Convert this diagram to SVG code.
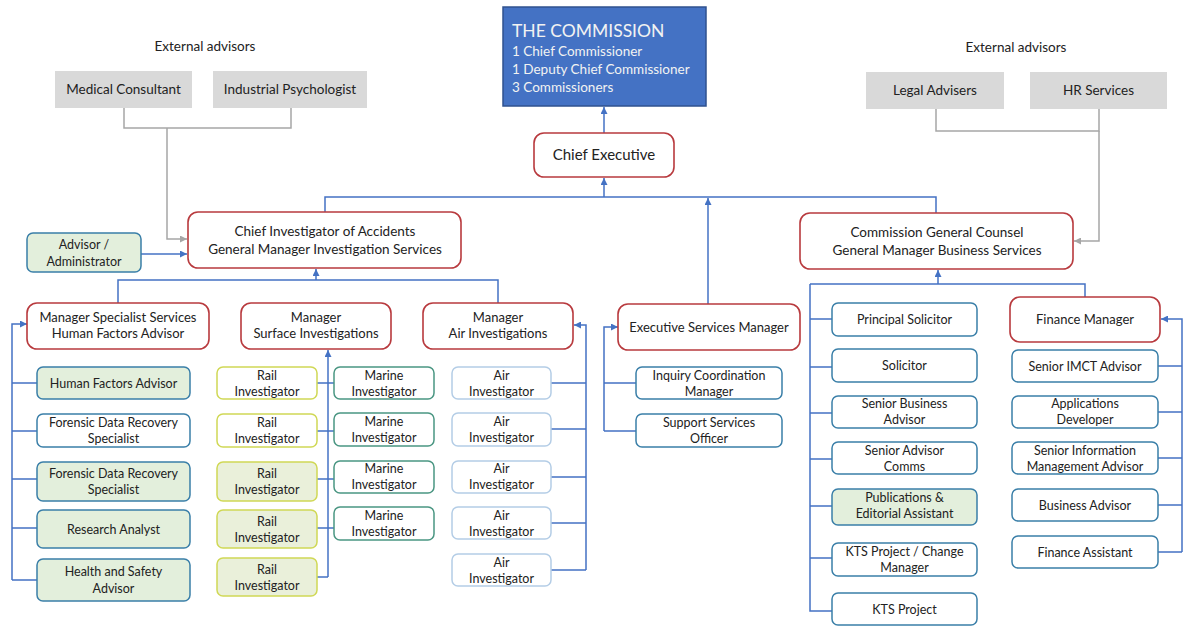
<svg xmlns="http://www.w3.org/2000/svg" width="1185" height="626" viewBox="0 0 1185 626">
  <style>
    text { font-family: Lato, "Open Sans", sans-serif; fill: #222; text-anchor: middle; }
    .s { font-size: 12.5px; }
    .m { font-size: 13px; }
    .l { font-size: 13.5px; }
    .lead { fill: #fff; stroke: #b83a3e; stroke-width: 1.6; }
    .kid { fill: #fff; stroke: #3a7fa8; stroke-width: 1.5; }
    .kidg { fill: #e3efdc; stroke: #3a7fa8; stroke-width: 1.5; }
    .rail { fill: #fff; stroke: #d0d855; stroke-width: 1.5; }
    .railg { fill: #eaf0da; stroke: #d0d855; stroke-width: 1.5; }
    .marine { fill: #fff; stroke: #4a9682; stroke-width: 1.5; }
    .air { fill: #fff; stroke: #b4cde6; stroke-width: 1.5; }
    .ext { fill: #d9d9d9; }
    .ln { fill: none; stroke: #4472c4; stroke-width: 1.5; }
    .gl { fill: none; stroke: #a6a6a6; stroke-width: 1.5; }
    .cw { fill: #f2f2f2; text-anchor: start; }
  </style>
  <defs>
    <marker id="ab" viewBox="0 0 10 10" refX="10" refY="5" markerWidth="7" markerHeight="7" markerUnits="userSpaceOnUse" orient="auto">
      <path d="M0 0 L10 5 L0 10 z" fill="#4472c4"/>
    </marker>
    <marker id="ag" viewBox="0 0 10 10" refX="10" refY="5" markerWidth="7" markerHeight="7" markerUnits="userSpaceOnUse" orient="auto">
      <path d="M0 0 L10 5 L0 10 z" fill="#a6a6a6"/>
    </marker>
  </defs>

  <rect width="1185" height="626" fill="#fff"/>

  <!-- connectors -->
  <g id="connectors">
    <!-- external advisors -->
    <path class="gl" d="M124 108 V128 H291 V108"/>
    <path class="gl" d="M167 128 V239 H187" marker-end="url(#ag)"/>
    <path class="gl" d="M936 109 V131 H1099 V109"/>
    <path class="gl" d="M1099 131 V241 H1074" marker-end="url(#ag)"/>
    <!-- top level -->
    <path class="ln" d="M604 133 V107" marker-end="url(#ab)"/>
    <path class="ln" d="M604 197 V178" marker-end="url(#ab)"/>
    <path class="ln" d="M325 212 V197 H936 V213"/>
    <path class="ln" d="M708 304 V198" marker-end="url(#ab)"/>
    <path class="ln" d="M141 254 H187" marker-end="url(#ab)"/>
    <!-- investigation services -->
    <path class="ln" d="M118 303 V280 H498 V303"/>
    <path class="ln" d="M316 280 V269" marker-end="url(#ab)"/>
    <path class="ln" d="M12 580 V324 H27" marker-end="url(#ab)"/>
    <path class="ln" d="M12 383 H37 M12 431 H37 M12 479 H37 M12 528 H37 M12 580 H37"/>
    <path class="ln" d="M328 577 V350" marker-end="url(#ab)"/>
    <path class="ln" d="M317 383 H334 M317 431 H334 M317 479 H334 M317 528 H334 M317 577 H328"/>
    <path class="ln" d="M586 570 V325 H574" marker-end="url(#ab)"/>
    <path class="ln" d="M551 383 H586 M551 429 H586 M551 477 H586 M551 523 H586 M551 570 H586"/>
    <!-- executive services -->
    <path class="ln" d="M604 431 V327 H618" marker-end="url(#ab)"/>
    <path class="ln" d="M604 383 H636 M604 431 H636"/>
    <!-- business services -->
    <path class="ln" d="M938 284 V270" marker-end="url(#ab)"/>
    <path class="ln" d="M810 284 H1085 V297"/>
    <path class="ln" d="M810 284 V611 H832"/>
    <path class="ln" d="M810 319 H832 M810 367 H832 M810 413 H832 M810 459 H832 M810 506 H832 M810 558 H832"/>
    <path class="ln" d="M1182 552 V319 H1161" marker-end="url(#ab)"/>
    <path class="ln" d="M1158 366 H1182 M1158 412 H1182 M1158 458 H1182 M1158 505 H1182 M1158 552 H1182"/>
  </g>

  <!-- external advisor headings -->
  <text class="l" x="205" y="51">External advisors</text>
  <text class="l" x="1016" y="52">External advisors</text>

  <g id="medical-consultant"><rect class="ext" x="55" y="71" width="137" height="37"/><text class="l" x="123.5" y="94">Medical Consultant</text></g>
  <g id="industrial-psychologist"><rect class="ext" x="213" y="71" width="154" height="37"/><text class="l" x="290" y="94">Industrial Psychologist</text></g>
  <g id="legal-advisers"><rect class="ext" x="866" y="72" width="138" height="37"/><text class="l" x="935" y="95">Legal Advisers</text></g>
  <g id="hr-services"><rect class="ext" x="1030" y="72" width="137" height="37"/><text class="l" x="1098.5" y="95">HR Services</text></g>

  <g id="commission">
    <rect x="503" y="7" width="203" height="99" fill="#4472c4" stroke="#2f528f" stroke-width="1.5"/>
    <text class="cw" x="512" y="37" style="font-size:17.5px">THE COMMISSION</text>
    <text class="cw" x="512" y="56" style="font-size:13.5px">1 Chief Commissioner</text>
    <text class="cw" x="512" y="74" style="font-size:13.5px">1 Deputy Chief Commissioner</text>
    <text class="cw" x="512" y="92" style="font-size:13.5px">3 Commissioners</text>
  </g>

  <g id="chief-executive"><rect class="lead" x="534" y="133" width="140" height="44" rx="10"/><text x="604" y="160" style="font-size:15px">Chief Executive</text></g>

  <g id="chief-investigator">
    <rect class="lead" x="188" y="212" width="273" height="56" rx="10"/>
    <text class="l"><tspan x="325" y="236">Chief Investigator of Accidents</tspan><tspan x="325" y="254">General Manager Investigation Services</tspan></text>
  </g>
  <g id="advisor-administrator">
    <rect class="kidg" x="27" y="233" width="114" height="39" rx="6"/>
    <text class="s"><tspan x="84" y="249">Advisor /</tspan><tspan x="84" y="266">Administrator</tspan></text>
  </g>
  <g id="general-counsel">
    <rect class="lead" x="800" y="213" width="273" height="56" rx="10"/>
    <text class="l"><tspan x="937" y="237">Commission General Counsel</tspan><tspan x="937" y="255">General Manager Business Services</tspan></text>
  </g>

  <!-- managers -->
  <g id="mgr-specialist"><rect class="lead" x="27" y="303" width="182" height="46" rx="10"/><text class="m"><tspan x="118" y="322">Manager Specialist Services</tspan><tspan x="118" y="338">Human Factors Advisor</tspan></text></g>
  <g id="mgr-surface"><rect class="lead" x="241" y="303" width="150" height="46" rx="10"/><text class="m"><tspan x="316" y="322">Manager</tspan><tspan x="316" y="338">Surface Investigations</tspan></text></g>
  <g id="mgr-air"><rect class="lead" x="423" y="303" width="150" height="46" rx="10"/><text class="m"><tspan x="498" y="322">Manager</tspan><tspan x="498" y="338">Air Investigations</tspan></text></g>
  <g id="mgr-exec"><rect class="lead" x="618" y="304" width="182" height="46" rx="10"/><text class="m" x="709" y="331.5">Executive Services Manager</text></g>
  <g id="mgr-finance"><rect class="lead" x="1010" y="297" width="150" height="45" rx="10"/><text class="m" x="1085" y="324">Finance Manager</text></g>

  <!-- specialist services team -->
  <g id="human-factors"><rect class="kidg" x="37" y="367" width="153" height="32" rx="6"/><text class="s" x="113.5" y="387.5">Human Factors Advisor</text></g>
  <g id="forensic-1"><rect class="kid" x="37" y="414" width="153" height="33" rx="6"/><text class="s"><tspan x="113.5" y="427">Forensic Data Recovery</tspan><tspan x="113.5" y="443">Specialist</tspan></text></g>
  <g id="forensic-2"><rect class="kidg" x="37" y="462" width="153" height="39" rx="6"/><text class="s"><tspan x="113.5" y="478">Forensic Data Recovery</tspan><tspan x="113.5" y="494">Specialist</tspan></text></g>
  <g id="research-analyst"><rect class="kidg" x="37" y="510" width="153" height="38" rx="6"/><text class="s" x="113.5" y="533.5">Research Analyst</text></g>
  <g id="health-safety"><rect class="kidg" x="37" y="559" width="153" height="42" rx="6"/><text class="s"><tspan x="113.5" y="576">Health and Safety</tspan><tspan x="113.5" y="593">Advisor</tspan></text></g>

  <!-- surface investigations team -->
  <g id="rail-1"><rect class="rail" x="217" y="367" width="100" height="32" rx="6"/><text class="s"><tspan x="267" y="380">Rail</tspan><tspan x="267" y="396">Investigator</tspan></text></g>
  <g id="rail-2"><rect class="rail" x="217" y="414" width="100" height="33" rx="6"/><text class="s"><tspan x="267" y="427">Rail</tspan><tspan x="267" y="443">Investigator</tspan></text></g>
  <g id="rail-3"><rect class="railg" x="217" y="462" width="100" height="39" rx="6"/><text class="s"><tspan x="267" y="478">Rail</tspan><tspan x="267" y="494">Investigator</tspan></text></g>
  <g id="rail-4"><rect class="railg" x="217" y="510" width="100" height="38" rx="6"/><text class="s"><tspan x="267" y="526">Rail</tspan><tspan x="267" y="542">Investigator</tspan></text></g>
  <g id="rail-5"><rect class="railg" x="217" y="558" width="100" height="38" rx="6"/><text class="s"><tspan x="267" y="574">Rail</tspan><tspan x="267" y="590">Investigator</tspan></text></g>
  <g id="marine-1"><rect class="marine" x="334" y="367" width="100" height="32" rx="6"/><text class="s"><tspan x="384" y="380">Marine</tspan><tspan x="384" y="396">Investigator</tspan></text></g>
  <g id="marine-2"><rect class="marine" x="334" y="413" width="100" height="33" rx="6"/><text class="s"><tspan x="384" y="426">Marine</tspan><tspan x="384" y="442">Investigator</tspan></text></g>
  <g id="marine-3"><rect class="marine" x="334" y="461" width="100" height="32" rx="6"/><text class="s"><tspan x="384" y="473">Marine</tspan><tspan x="384" y="489">Investigator</tspan></text></g>
  <g id="marine-4"><rect class="marine" x="334" y="507" width="100" height="33" rx="6"/><text class="s"><tspan x="384" y="520">Marine</tspan><tspan x="384" y="536">Investigator</tspan></text></g>

  <!-- air investigations team -->
  <g id="air-1"><rect class="air" x="452" y="367" width="99" height="32" rx="6"/><text class="s"><tspan x="501.5" y="380">Air</tspan><tspan x="501.5" y="396">Investigator</tspan></text></g>
  <g id="air-2"><rect class="air" x="452" y="413" width="99" height="33" rx="6"/><text class="s"><tspan x="501.5" y="426">Air</tspan><tspan x="501.5" y="442">Investigator</tspan></text></g>
  <g id="air-3"><rect class="air" x="452" y="461" width="99" height="32" rx="6"/><text class="s"><tspan x="501.5" y="473">Air</tspan><tspan x="501.5" y="489">Investigator</tspan></text></g>
  <g id="air-4"><rect class="air" x="452" y="507" width="99" height="32" rx="6"/><text class="s"><tspan x="501.5" y="520">Air</tspan><tspan x="501.5" y="536">Investigator</tspan></text></g>
  <g id="air-5"><rect class="air" x="452" y="554" width="99" height="32" rx="6"/><text class="s"><tspan x="501.5" y="567">Air</tspan><tspan x="501.5" y="583">Investigator</tspan></text></g>

  <!-- executive services team -->
  <g id="inquiry-coordination"><rect class="kid" x="636" y="367" width="146" height="32" rx="6"/><text class="s"><tspan x="709" y="380">Inquiry Coordination</tspan><tspan x="709" y="396">Manager</tspan></text></g>
  <g id="support-services"><rect class="kid" x="636" y="414" width="146" height="33" rx="6"/><text class="s"><tspan x="709" y="427">Support Services</tspan><tspan x="709" y="443">Officer</tspan></text></g>

  <!-- business services team -->
  <g id="principal-solicitor"><rect class="kid" x="832" y="303" width="145" height="33" rx="6"/><text class="s" x="904.5" y="324">Principal Solicitor</text></g>
  <g id="solicitor"><rect class="kid" x="832" y="349" width="145" height="33" rx="6"/><text class="s" x="904.5" y="370">Solicitor</text></g>
  <g id="senior-business-advisor"><rect class="kid" x="832" y="396" width="145" height="32" rx="6"/><text class="s"><tspan x="904.5" y="408">Senior Business</tspan><tspan x="904.5" y="424">Advisor</tspan></text></g>
  <g id="senior-advisor-comms"><rect class="kid" x="832" y="442" width="145" height="32" rx="6"/><text class="s"><tspan x="904.5" y="455">Senior Advisor</tspan><tspan x="904.5" y="471">Comms</tspan></text></g>
  <g id="publications"><rect class="kidg" x="832" y="489" width="145" height="36" rx="6"/><text class="s"><tspan x="904.5" y="502">Publications &amp;</tspan><tspan x="904.5" y="518">Editorial Assistant</tspan></text></g>
  <g id="kts-change"><rect class="kid" x="832" y="543" width="145" height="33" rx="6"/><text class="s"><tspan x="904.5" y="556">KTS Project / Change</tspan><tspan x="904.5" y="572">Manager</tspan></text></g>
  <g id="kts-project"><rect class="kid" x="832" y="593" width="145" height="32" rx="6"/><text class="s" x="904.5" y="614">KTS Project</text></g>

  <!-- finance team -->
  <g id="senior-imct"><rect class="kid" x="1012" y="350" width="146" height="32" rx="6"/><text class="s" x="1085" y="370.5">Senior IMCT Advisor</text></g>
  <g id="applications-developer"><rect class="kid" x="1012" y="396" width="146" height="32" rx="6"/><text class="s"><tspan x="1085" y="408">Applications</tspan><tspan x="1085" y="424">Developer</tspan></text></g>
  <g id="senior-information"><rect class="kid" x="1012" y="442" width="146" height="32" rx="6"/><text class="s"><tspan x="1085" y="455">Senior Information</tspan><tspan x="1085" y="471">Management Advisor</tspan></text></g>
  <g id="business-advisor"><rect class="kid" x="1012" y="489" width="146" height="32" rx="6"/><text class="s" x="1085" y="509.5">Business Advisor</text></g>
  <g id="finance-assistant"><rect class="kid" x="1012" y="536" width="146" height="32" rx="6"/><text class="s" x="1085" y="556.5">Finance Assistant</text></g>
</svg>
